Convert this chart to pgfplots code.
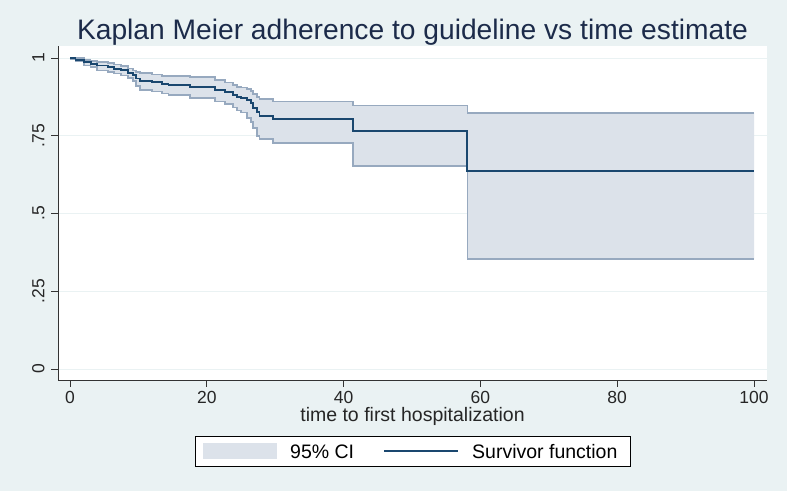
\documentclass[border=0pt]{standalone}
\usepackage{pgfplots}
\pgfplotsset{compat=1.18}
\usepgfplotslibrary{fillbetween}
\usepackage{pgfplotstable}
\usepackage{fontspec}
\setmainfont{Liberation Sans}

\definecolor{bgcol}{HTML}{EAF2F3}
\definecolor{kmline}{HTML}{1A476F}
\definecolor{cifill}{HTML}{DCE2EA}
\definecolor{ciedge}{HTML}{97A9BF}
\definecolor{titlecol}{HTML}{1C2B4A}

% Kaplan-Meier estimate with pointwise 95% confidence limits (step values from t onward)
\pgfplotstableread{
t     S      lo     hi
0     1.000  0.995  1.000
0.8   0.995  0.990  0.999
2.0   0.987  0.976  0.994
3.0   0.982  0.970  0.991
4.0   0.976  0.960  0.987
5.5   0.971  0.955  0.983
6.4   0.966  0.950  0.979
7.5   0.960  0.944  0.974
8.5   0.952  0.936  0.966
9.2   0.944  0.925  0.960
9.7   0.934  0.910  0.955
10.2  0.927  0.898  0.951
12.0  0.922  0.892  0.947
13.5  0.917  0.886  0.943
14.4  0.913  0.882  0.941
17.5  0.906  0.871  0.938
21.2  0.897  0.860  0.929
22.7  0.890  0.851  0.921
23.8  0.882  0.841  0.914
24.4  0.874  0.831  0.908
25.0  0.870  0.825  0.905
25.9  0.864  0.808  0.901
26.5  0.854  0.795  0.893
26.8  0.840  0.774  0.885
27.3  0.825  0.750  0.875
27.7  0.814  0.740  0.868
29.7  0.803  0.726  0.860
41.4  0.766  0.653  0.847
58.1  0.638  0.353  0.824
100   0.638  0.353  0.824
}\kmdata

\begin{document}
\begin{tikzpicture}
\fill[bgcol] (0bp,0bp) rectangle (787bp,491bp);
\fill[white] (58bp,111bp) rectangle (767bp,445bp);
\begin{axis}[
  at={(58bp,111bp)}, anchor=south west,
  scale only axis, width=709bp, height=334bp,
  xmin=-1.76, xmax=101.9, ymin=-0.0354, ymax=1.0386,
  axis x line*=bottom, axis y line*=left,
  axis line style={-, black!80, line width=0.7bp},
  tick align=outside, major tick length=7bp,
  tick style={black!80, line width=0.7bp},
  xtick={0,20,40,60,80,100},
  ytick={0,0.25,0.5,0.75,1},
  yticklabels={0,.25,.5,.75,1},
  /pgf/number format/assume math mode=true,
  ticklabel style={font=\fontsize{17.5bp}{19bp}\selectfont, text=black!85},
  xticklabel style={yshift=-1bp},
  yticklabel style={rotate=90, anchor=south, yshift=3bp},
  ymajorgrids, major grid style={bgcol, line width=0.9bp},
  xlabel={time to first hospitalization},
  xlabel style={font=\fontsize{19.5bp}{21bp}\selectfont, text=black!85, yshift=3bp},
  title={Kaplan Meier adherence to guideline vs time estimate},
  title style={font=\fontsize{28.2bp}{31bp}\selectfont, text=titlecol, yshift=-9bp},
  clip=false,
]
% confidence band: invisible limit paths, filled region, then visible edges
\addplot[name path=upper, const plot, draw=none, forget plot]
  table[x=t, y=hi] {\kmdata};
\addplot[name path=lower, const plot, draw=none, forget plot]
  table[x=t, y=lo] {\kmdata};
\addplot[cifill, forget plot, on layer=] fill between[of=upper and lower];
\addplot[const plot, ciedge, line width=1.8bp, forget plot]
  table[x=t, y=hi] {\kmdata};
\addplot[const plot, ciedge, line width=1.8bp, forget plot]
  table[x=t, y=lo] {\kmdata};
% survivor function
\addplot[const plot, kmline, line width=1.9bp, forget plot]
  table[x=t, y=S] {\kmdata};
\end{axis}
% legend box
\draw[black, line width=0.7bp, fill=white] (195bp,25bp) rectangle (630bp,55bp);
\fill[cifill] (203bp,32bp) rectangle (277bp,48bp);
\node[anchor=base west, inner sep=0pt, font=\fontsize{19.5bp}{21bp}\selectfont]
  at (290bp,33bp) {95\% CI};
\draw[kmline, line width=1.3bp] (384bp,40bp) -- (458bp,40bp);
\node[anchor=base west, inner sep=0pt, font=\fontsize{19.5bp}{21bp}\selectfont]
  at (472bp,33bp) {Survivor function};
\pgfresetboundingbox
\useasboundingbox (0bp,0bp) rectangle (787bp,491bp);
\end{tikzpicture}
\end{document}
